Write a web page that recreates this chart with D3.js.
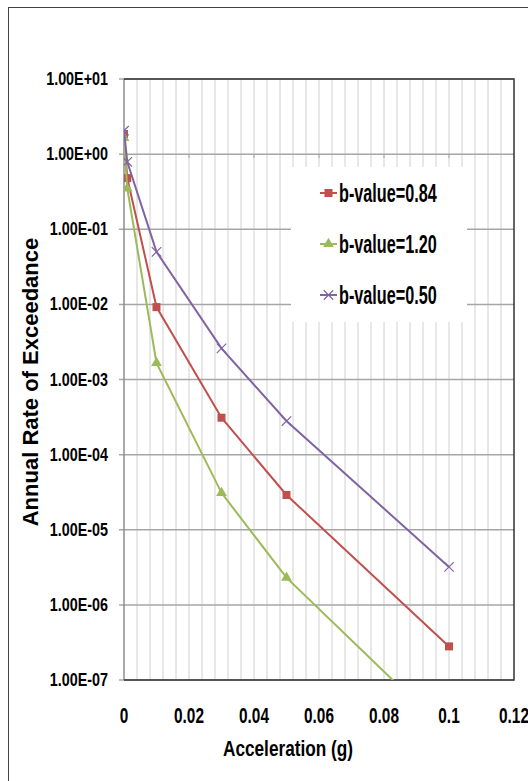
<!DOCTYPE html>
<html>
<head>
<meta charset="utf-8">
<script src="https://cdn.jsdelivr.net/npm/d3@7"></script>
<style>
  body { margin: 0; background: #fff; }
  text { font-family: "Liberation Sans", Arial, sans-serif; font-weight: bold; fill: #000; }
</style>
</head>
<body>
<script>
var accel = [0, 0.001, 0.01, 0.03, 0.05, 0.1];
var rate084 = [1.85, 0.48, 0.0092, 3.1e-4, 2.9e-5, 2.8e-7];
var rate120 = [1.65, 0.35, 0.00166, 3.1e-5, 2.3e-6, 1.9e-8];
var rate050 = [2.05, 0.79, 0.050, 2.6e-3, 2.8e-4, 3.2e-6];
var seriesNames = ['b-value=0.84', 'b-value=1.20', 'b-value=0.50'];
var seriesColors = ['#C0504D', '#9BBB59', '#8064A2'];
var seriesSymbols = ['square', 'triangle', 'cross'];
var xTicks = [0, 0.02, 0.04, 0.06, 0.08, 0.1, 0.12];
var yTicks = [1e1, 1e0, 1e-1, 1e-2, 1e-3, 1e-4, 1e-5, 1e-6, 1e-7];
var yTickLabels = ['1.00E+01', '1.00E+00', '1.00E-01', '1.00E-02', '1.00E-03',
                   '1.00E-04', '1.00E-05', '1.00E-06', '1.00E-07'];

(function() {
    var width = 528, height = 781;
    var pl = 124, pr = 514, pt = 79, pb = 680;

    var svg = d3.select('body').append('svg')
        .attr('width', width)
        .attr('height', height);

    // squeezed text, the original uses a condensed face
    function label(g, tx, ty, str, size, sx, sy, anchor) {
        return g.append('text')
            .attr('transform', 'translate(' + tx + ',' + ty + ') scale(' + sx + ',' + sy + ')')
            .attr('text-anchor', anchor || 'start')
            .style('font-size', size + 'px')
            .text(str);
    }

    // chart frame
    svg.append('rect')
        .attr('x', 8.5).attr('y', 7.5)
        .attr('width', 540).attr('height', 800)
        .attr('fill', '#fff').attr('stroke', '#444').attr('stroke-width', 1);

    var x = d3.scaleLinear().domain([0, 0.12]).range([pl, pr]);
    var y = d3.scaleLog().domain([1e-7, 10]).range([pb, pt]);

    // minor vertical grid every 0.004
    var minor = d3.range(1, 30).map(function(i) { return i * 0.004; });
    svg.append('g').selectAll('line')
        .data(minor).enter().append('line')
        .attr('x1', function(d) { return x(d); }).attr('x2', function(d) { return x(d); })
        .attr('y1', pt).attr('y2', pb)
        .attr('stroke', '#d0d0d0').attr('stroke-width', 1);

    // horizontal major grid (with outside ticks)
    svg.append('g').selectAll('line')
        .data(yTicks).enter().append('line')
        .attr('x1', pl - 5).attr('x2', pr)
        .attr('y1', function(d) { return y(d); }).attr('y2', function(d) { return y(d); })
        .attr('stroke', '#a6a6a6').attr('stroke-width', 1.5);

    // small ticks on the x axis line crossing at 1
    svg.append('g').selectAll('line')
        .data(xTicks.slice(1, -1)).enter().append('line')
        .attr('x1', function(d) { return x(d); }).attr('x2', function(d) { return x(d); })
        .attr('y1', y(1)).attr('y2', y(1) + 4)
        .attr('stroke', '#a6a6a6').attr('stroke-width', 1);

    // left axis line
    svg.append('line')
        .attr('x1', pl).attr('x2', pl).attr('y1', pt).attr('y2', pb)
        .attr('stroke', '#8c8c8c').attr('stroke-width', 1.5);

    // plot border top/right/bottom
    svg.append('path')
        .attr('d', 'M' + pl + ',' + pt + 'H' + pr + 'V' + pb + 'H' + pl)
        .attr('fill', 'none').attr('stroke', '#333').attr('stroke-width', 1.5);

    // y labels
    var gy = svg.append('g');
    yTicks.forEach(function(d, i) {
        label(gy, 108, y(d) + 6, yTickLabels[i], 17.5, 0.82, 1, 'end');
    });

    // x labels
    var gx = svg.append('g');
    xTicks.forEach(function(d) {
        label(gx, x(d), 723, d3.format('~g')(d), 19, 0.81, 1.2, 'middle');
    });

    // axis titles
    label(svg, 288, 756, 'Acceleration (g)', 21, 0.82, 1.05, 'middle');

    svg.append('text')
        .attr('transform', 'translate(38,382) rotate(-90)')
        .attr('text-anchor', 'middle')
        .style('font-size', '22px')
        .text('Annual Rate of Exceedance');

    var data = [rate084, rate120, rate050];

    svg.append('clipPath').attr('id', 'plotclip')
        .append('rect').attr('x', pl).attr('y', pt - 10)
        .attr('width', pr - pl).attr('height', pb - pt + 10);

    var line = d3.line()
        .x(function(d) { return x(d[0]); })
        .y(function(d) { return y(d[1]); });

    function symbolPath(kind) {
        if (kind === 'square') return d3.symbol().type(d3.symbolSquare).size(64)();
        if (kind === 'triangle') return d3.symbol().type(d3.symbolTriangle).size(50)();
        return d3.symbol().type(d3.symbolX).size(60)();
    }

    var plot = svg.append('g').attr('clip-path', 'url(#plotclip)');
    data.forEach(function(vals, s) {
        var pts = accel.map(function(a, i) { return [a, vals[i]]; });
        plot.append('path')
            .attr('d', line(pts))
            .attr('fill', 'none')
            .attr('stroke', seriesColors[s])
            .attr('stroke-width', 2);
        plot.append('g').selectAll('path')
            .data(pts.filter(function(p) { return p[1] >= 1e-7; }))
            .enter().append('path')
            .attr('transform', function(p) { return 'translate(' + x(p[0]) + ',' + y(p[1]) + ')'; })
            .attr('d', symbolPath(seriesSymbols[s]))
            .attr('fill', seriesSymbols[s] === 'cross' ? 'none' : seriesColors[s])
            .attr('stroke', seriesColors[s])
            .attr('stroke-width', seriesSymbols[s] === 'cross' ? 1.2 : 0);
    });

    // legend
    var legend = svg.append('g');
    legend.append('rect')
        .attr('x', 291).attr('y', 167).attr('width', 176).attr('height', 155)
        .attr('fill', '#fff');
    seriesNames.forEach(function(name, s) {
        var ly = 193 + s * 51;
        legend.append('line')
            .attr('x1', 320).attr('x2', 337).attr('y1', ly).attr('y2', ly)
            .attr('stroke', seriesColors[s]).attr('stroke-width', 2);
        legend.append('path')
            .attr('transform', 'translate(328.5,' + ly + ')')
            .attr('d', symbolPath(seriesSymbols[s]))
            .attr('fill', seriesSymbols[s] === 'cross' ? 'none' : seriesColors[s])
            .attr('stroke', seriesColors[s])
            .attr('stroke-width', seriesSymbols[s] === 'cross' ? 1.2 : 0);
        label(legend, 339, ly + 9, name, 20, 0.81, 1.3, 'start');
    });
})();
</script>
</body>
</html>
